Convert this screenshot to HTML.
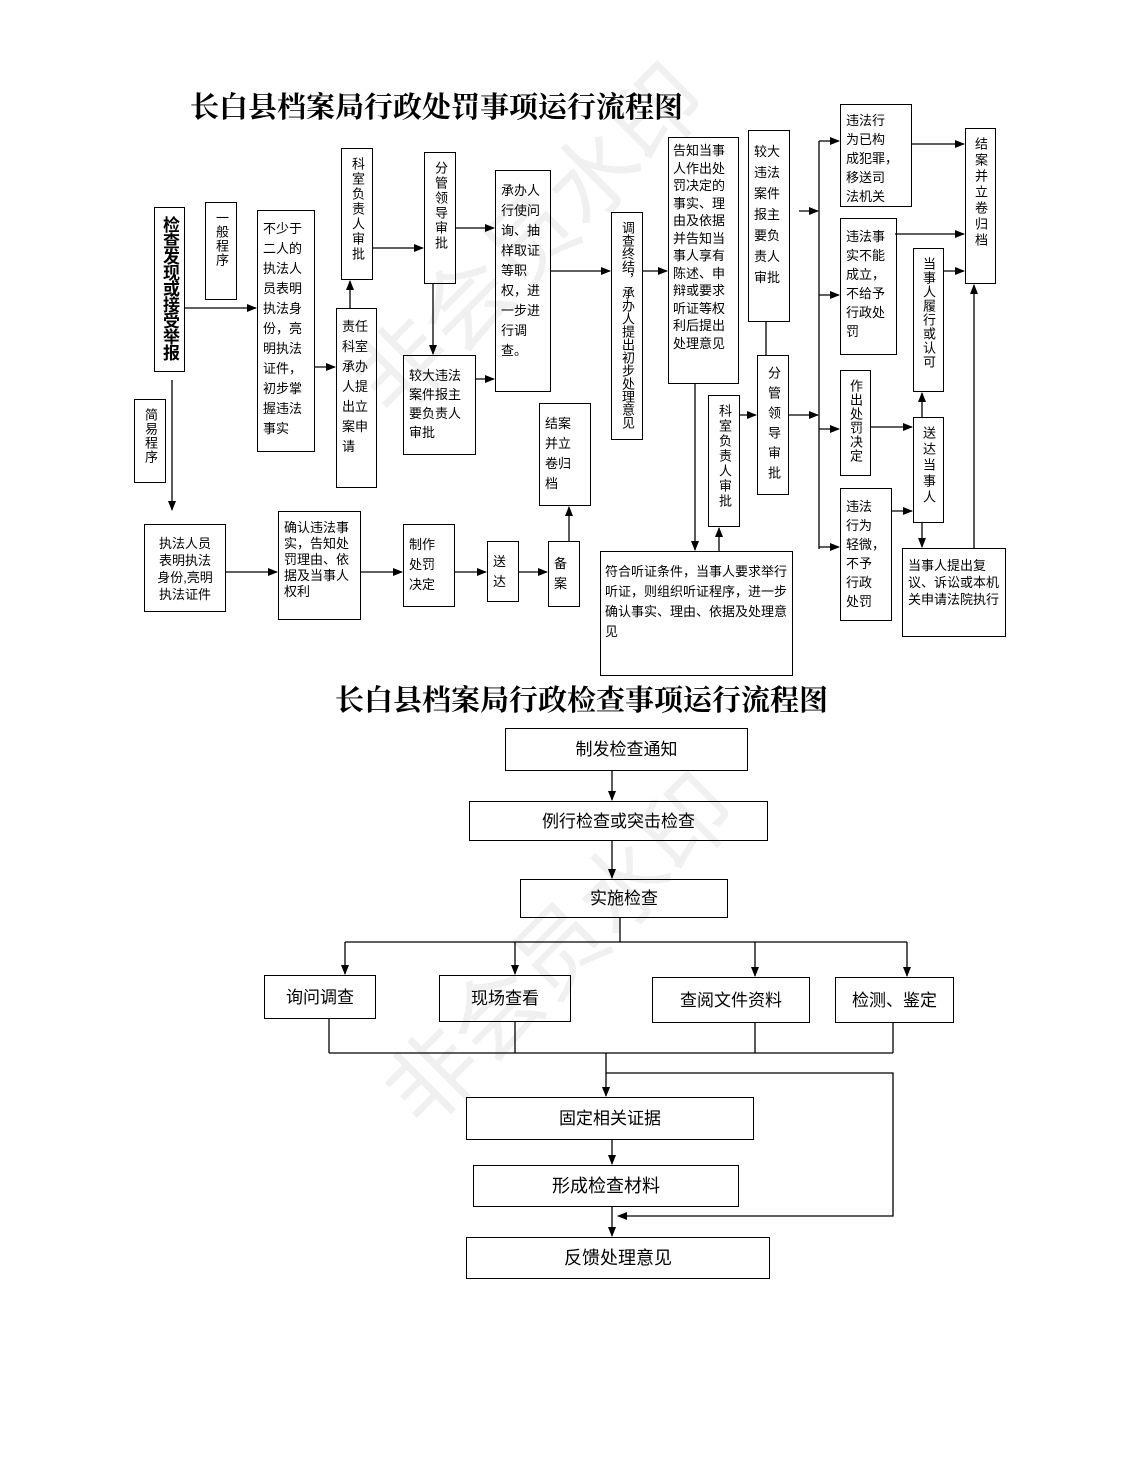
<!DOCTYPE html>
<html><head><meta charset="utf-8"><style>
body{margin:0;background:#fff}
#p{position:relative;width:1122px;height:1478px;overflow:hidden;font-family:"Liberation Sans","Noto Sans CJK SC",sans-serif;color:#000}
.b{position:absolute;border:1px solid #000;box-sizing:border-box;font-size:13px;line-height:19px;padding:4px 5px;background:transparent;z-index:2}
.v{writing-mode:vertical-rl;display:flex;align-items:center;justify-content:flex-start;padding:8px 0;line-height:31px;white-space:nowrap}
.t{position:absolute;font-family:"Liberation Serif","Noto Serif CJK SC",serif;font-weight:bold;font-size:29px;white-space:nowrap}
.c{display:flex;align-items:center;justify-content:center;font-size:17px;padding:0}
svg{position:absolute;left:0;top:0;z-index:1}
.wm{position:absolute;font-size:90px;color:#f0f0f0;transform:rotate(-45deg);white-space:nowrap;z-index:0}
</style></head><body><div id="p">
<div class="wm" style="left:300px;top:170px">非会员水印</div>
<div class="wm" style="left:330px;top:880px">非会员水印</div>
<svg width="1122" height="1478">
<defs><marker id="a" markerWidth="10" markerHeight="8" refX="9" refY="4" orient="auto" markerUnits="userSpaceOnUse"><path d="M0,0L10,4L0,8z" fill="#000"/></marker></defs>
<g stroke="#000" stroke-width="1.3" fill="none">
<line x1="185" y1="308" x2="256" y2="308" marker-end="url(#a)"/>
<line x1="314" y1="367" x2="335" y2="367" marker-end="url(#a)"/>
<line x1="350" y1="308" x2="350" y2="281" marker-end="url(#a)"/>
<line x1="373" y1="248" x2="423" y2="248" marker-end="url(#a)"/>
<line x1="456" y1="228" x2="494" y2="228" marker-end="url(#a)"/>
<line x1="433" y1="284" x2="433" y2="354" marker-end="url(#a)"/>
<line x1="476" y1="379" x2="494" y2="379" marker-end="url(#a)"/>
<line x1="172" y1="380" x2="172" y2="510" marker-end="url(#a)"/>
<line x1="551" y1="271" x2="610" y2="271" marker-end="url(#a)"/>
<line x1="642" y1="271" x2="667" y2="271" marker-end="url(#a)"/>
<line x1="695" y1="384" x2="695" y2="550" marker-end="url(#a)"/>
<line x1="719" y1="551" x2="719" y2="528" marker-end="url(#a)"/>
<line x1="766" y1="322" x2="766" y2="355"/>
<line x1="739" y1="415" x2="756" y2="415" marker-end="url(#a)"/>
<line x1="789" y1="415" x2="818" y2="415" marker-end="url(#a)"/>
<line x1="799" y1="211" x2="818" y2="211" marker-end="url(#a)"/>
<line x1="819" y1="141" x2="819" y2="549"/>
<line x1="819" y1="141" x2="839" y2="141" marker-end="url(#a)"/>
<line x1="819" y1="295" x2="839" y2="295" marker-end="url(#a)"/>
<line x1="819" y1="429" x2="839" y2="429" marker-end="url(#a)"/>
<line x1="819" y1="547" x2="839" y2="547" marker-end="url(#a)"/>
<line x1="912" y1="144" x2="964" y2="144" marker-end="url(#a)"/>
<line x1="895" y1="234" x2="964" y2="234" marker-end="url(#a)"/>
<line x1="944" y1="271" x2="964" y2="271" marker-end="url(#a)"/>
<line x1="871" y1="427" x2="912" y2="427" marker-end="url(#a)"/>
<line x1="892" y1="511" x2="912" y2="511" marker-end="url(#a)"/>
<line x1="922" y1="417" x2="922" y2="393" marker-end="url(#a)"/>
<line x1="922" y1="523" x2="922" y2="547" marker-end="url(#a)"/>
<line x1="974" y1="548" x2="974" y2="285" marker-end="url(#a)"/>
<line x1="226" y1="572" x2="277" y2="572" marker-end="url(#a)"/>
<line x1="361" y1="572" x2="402" y2="572" marker-end="url(#a)"/>
<line x1="455" y1="572" x2="486" y2="572" marker-end="url(#a)"/>
<line x1="519" y1="572" x2="547" y2="572" marker-end="url(#a)"/>
<line x1="569" y1="541" x2="569" y2="507" marker-end="url(#a)"/>
<line x1="612" y1="771" x2="612" y2="800" marker-end="url(#a)"/>
<line x1="612" y1="841" x2="612" y2="878" marker-end="url(#a)"/>
<line x1="620" y1="918" x2="620" y2="942"/>
<line x1="345" y1="942" x2="907" y2="942"/>
<line x1="345" y1="942" x2="345" y2="974" marker-end="url(#a)"/>
<line x1="515" y1="942" x2="515" y2="974" marker-end="url(#a)"/>
<line x1="755" y1="942" x2="755" y2="976" marker-end="url(#a)"/>
<line x1="907" y1="942" x2="907" y2="976" marker-end="url(#a)"/>
<line x1="329" y1="1019" x2="329" y2="1053"/>
<line x1="515" y1="1022" x2="515" y2="1053"/>
<line x1="755" y1="1023" x2="755" y2="1053"/>
<line x1="893" y1="1023" x2="893" y2="1053"/>
<line x1="329" y1="1053" x2="893" y2="1053"/>
<line x1="606" y1="1053" x2="606" y2="1096" marker-end="url(#a)"/>
<polyline points="606,1073 893,1073 893,1216 618,1216" marker-end="url(#a)"/>
<line x1="612" y1="1140" x2="612" y2="1164" marker-end="url(#a)"/>
<line x1="612" y1="1207" x2="612" y2="1236" marker-end="url(#a)"/>
</g></svg>
<div class="t" style="left:190px;top:85px">长白县档案局行政处罚事项运行流程图</div>
<div class="t" style="left:335px;top:678px">长白县档案局行政检查事项运行流程图</div>

<div class="b v" style="left:154px;top:207px;width:31px;height:165px;font-size:17px;font-weight:bold;line-height:29px;letter-spacing:-1px">检查发现或接受举报</div>
<div class="b v" style="left:205px;top:202px;width:32px;height:98px;line-height:30px;letter-spacing:1px">一般程序</div>
<div class="b v" style="left:134px;top:399px;width:32px;height:84px;line-height:30px;letter-spacing:1px">简易程序</div>
<div class="b" style="left:257px;top:210px;width:58px;height:242px;padding-top:8px;line-height:20px">不少于<br>二人的<br>执法人<br>员表明<br>执法身<br>份，亮<br>明执法<br>证件，<br>初步掌<br>握违法<br>事实</div>
<div class="b v" style="left:341px;top:148px;width:32px;height:132px;line-height:30px;letter-spacing:2px">科室负责人审批</div>
<div class="b" style="left:336px;top:308px;width:41px;height:180px;padding-top:8px;line-height:20px">责任<br>科室<br>承办<br>人提<br>出立<br>案申<br>请</div>
<div class="b v" style="left:424px;top:152px;width:32px;height:132px;line-height:30px;letter-spacing:2px">分管领导审批</div>
<div class="b" style="left:403px;top:355px;width:73px;height:100px;padding-top:10px">较大违法<br>案件报主<br>要负责人<br>审批</div>
<div class="b" style="left:495px;top:170px;width:56px;height:222px;padding-top:10px;line-height:20px">承办人<br>行使问<br>询、抽<br>样取证<br>等职<br>权，进<br>一步进<br>行调<br>查。</div>
<div class="b" style="left:539px;top:403px;width:52px;height:103px;padding-top:10px;line-height:20px">结案<br>并立<br>卷归<br>档</div>
<div class="b v" style="left:611px;top:212px;width:32px;height:228px;line-height:30px">调查终结，承办人提出初步处理意见</div>
<div class="b" style="left:668px;top:137px;width:71px;height:247px;padding:4px 4px;line-height:17.5px">告知当事<br>人作出处<br>罚决定的<br>事实、理<br>由及依据<br>并告知当<br>事人享有<br>陈述、申<br>辩或要求<br>听证等权<br>利后提出<br>处理意见</div>
<div class="b" style="left:748px;top:130px;width:42px;height:192px;padding-top:10px;line-height:21px">较大<br>违法<br>案件<br>报主<br>要负<br>责人<br>审批</div>
<div class="b v" style="left:757px;top:355px;width:32px;height:140px;line-height:30px;letter-spacing:7px;padding-top:10px">分管领导审批</div>
<div class="b v" style="left:708px;top:395px;width:32px;height:132px;line-height:30px;letter-spacing:2px">科室负责人审批</div>
<div class="b" style="left:600px;top:551px;width:193px;height:125px;padding:10px 4px;line-height:20px">符合听证条件，当事人要求举行听证，则组织听证程序，进一步确认事实、理由、依据及处理意见</div>
<div class="b" style="left:840px;top:104px;width:72px;height:103px;padding-top:6px">违法行<br>为已构<br>成犯罪，<br>移送司<br>法机关</div>
<div class="b" style="left:840px;top:218px;width:57px;height:137px;padding-top:8px">违法事<br>实不能<br>成立，<br>不给予<br>行政处<br>罚</div>
<div class="b v" style="left:840px;top:370px;width:31px;height:106px;line-height:29px;letter-spacing:1px">作出处罚决定</div>
<div class="b" style="left:840px;top:488px;width:52px;height:133px;padding-top:8px">违法<br>行为<br>轻微，<br>不予<br>行政<br>处罚</div>
<div class="b v" style="left:913px;top:248px;width:31px;height:144px;line-height:29px;letter-spacing:1px">当事人履行或认可</div>
<div class="b v" style="left:913px;top:417px;width:31px;height:106px;line-height:29px;letter-spacing:3px">送达当事人</div>
<div class="b" style="left:902px;top:548px;width:104px;height:89px;padding-top:8px;line-height:17px">当事人提出复议、诉讼或本机关申请法院执行</div>
<div class="b v" style="left:965px;top:128px;width:31px;height:156px;line-height:29px;letter-spacing:3px">结案并立卷归档</div>
<div class="b" style="left:144px;top:524px;width:82px;height:88px;padding-top:10px;line-height:17px;text-align:center">执法人员<br>表明执法<br>身份,亮明<br>执法证件</div>
<div class="b" style="left:278px;top:511px;width:83px;height:109px;padding-top:8px;line-height:16px">确认违法事<br>实，告知处<br>罚理由、依<br>据及当事人<br>权利</div>
<div class="b" style="left:403px;top:524px;width:52px;height:83px;padding-top:10px;line-height:20px">制作<br>处罚<br>决定</div>
<div class="b" style="left:487px;top:541px;width:32px;height:61px;padding-top:10px;line-height:20px">送<br>达</div>
<div class="b" style="left:548px;top:541px;width:32px;height:66px;padding-top:12px;line-height:20px">备<br>案</div>

<div class="b c" style="left:505px;top:728px;width:243px;height:43px">制发检查通知</div>
<div class="b c" style="left:469px;top:801px;width:299px;height:40px">例行检查或突击检查</div>
<div class="b c" style="left:520px;top:879px;width:208px;height:39px">实施检查</div>
<div class="b c" style="left:264px;top:975px;width:112px;height:44px">询问调查</div>
<div class="b c" style="left:439px;top:975px;width:132px;height:47px">现场查看</div>
<div class="b c" style="left:652px;top:977px;width:158px;height:46px">查阅文件资料</div>
<div class="b c" style="left:835px;top:977px;width:119px;height:46px">检测、鉴定</div>
<div class="b c" style="left:466px;top:1097px;width:288px;height:43px">固定相关证据</div>
<div class="b c" style="left:473px;top:1165px;width:266px;height:42px;font-size:18px">形成检查材料</div>
<div class="b c" style="left:466px;top:1237px;width:304px;height:42px;font-size:18px">反馈处理意见</div>
</div></body></html>
